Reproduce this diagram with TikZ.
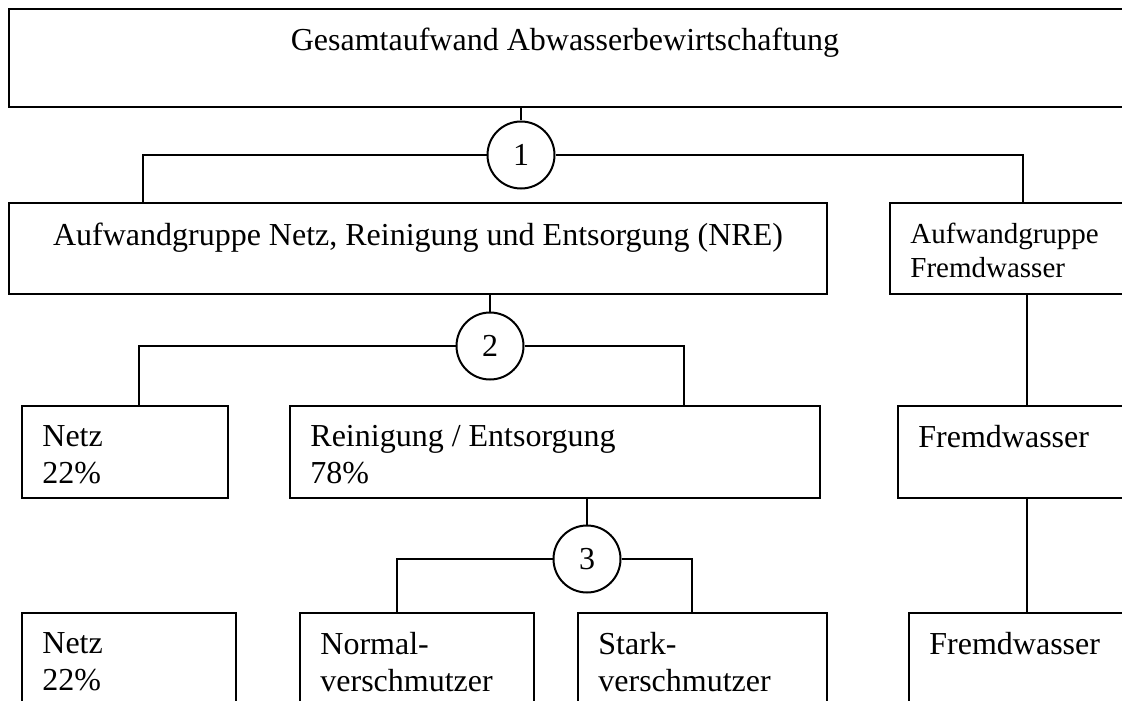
\documentclass[tikz,border=0pt]{standalone}
\usepackage{fontspec}
\setmainfont{Liberation Serif}
\usetikzlibrary{calc}
\begin{document}
\begin{tikzpicture}[x=0.5pt, y=-0.5pt,
            font=\fontsize{16}{18.5}\selectfont,
            box/.style={draw, rectangle, line width=1pt, anchor=north west, inner sep=0pt},
            txt/.style={anchor=north west, inner sep=0pt, align=left, xshift=10.5pt, yshift=-10pt},
            mid/.style={anchor=north, inner sep=0pt, yshift=-10pt},
            small/.style={font=\fontsize{14.5}{17}\selectfont},
            num/.style={draw, circle, line width=1pt, minimum size=33.5pt, inner sep=0pt},
            con/.style={line width=.9pt}]
            \useasboundingbox (0,0) rectangle (1122,700);
            \clip (0,0) rectangle (1122,700);

            \draw (8,8) node[box, minimum width=560pt, minimum height=49pt, label={[mid, xshift=-2pt]north:Gesamtaufwand Abwasserbewirtschaftung}] (ges) {};
            \draw (8,202) node[box, minimum width=409pt, minimum height=45.5pt, label={[mid, yshift=-.5pt]north:{Aufwandgruppe Netz, Reinigung und Entsorgung (NRE)}}] (nre) {};
            \draw (889,202) node[box, minimum width=140pt, minimum height=45.5pt, label={[txt, small, yshift=-.5pt]north west:Aufwandgruppe\\Fremdwasser}] (fwg) {};
            \draw (21,405) node[box, minimum width=103pt, minimum height=46pt, label={[txt]north west:Netz\\22\%}] (netzA) {};
            \draw (289,405) node[box, minimum width=265pt, minimum height=46pt, label={[txt]north west:Reinigung / Entsorgung\\78\%}] (rein) {};
            \draw (897,405) node[box, minimum width=140pt, minimum height=46pt, label={[txt]north west:Fremdwasser}] (fwA) {};
            \draw (21,612) node[box, minimum width=107pt, minimum height=60pt, label={[txt]north west:Netz\\22\%}] (netzB) {};
            \draw (299,612) node[box, minimum width=117pt, minimum height=60pt, label={[txt]north west:Normal-\\verschmutzer}] (norm) {};
            \draw (577,612) node[box, minimum width=124.5pt, minimum height=60pt, label={[txt]north west:Stark-\\verschmutzer}] (stark) {};
            \draw (908,612) node[box, minimum width=140pt, minimum height=60pt, label={[txt]north west:Fremdwasser}] (fwB) {};

            \draw (521,155) node[num] (c1) {1};
            \draw (490,346) node[num] (c2) {2};
            \draw (587,559) node[num] (c3) {3};

            \draw[con] (c1 |- ges.south) -- (c1);
            \draw[con] (c1) -| ($(nre.north west)+(135,0)$);
            \draw[con] (c1) -| ($(fwg.north west)+(134,0)$);
            \draw[con] (c2 |- nre.south) -- (c2);
            \draw[con] (c2) -| ($(netzA.north west)+(118,0)$);
            \draw[con] (c2) -| ($(rein.north west)+(395,0)$);
            \draw[con] (c3 |- rein.south) -- (c3);
            \draw[con] (c3) -| ($(norm.north west)+(98,0)$);
            \draw[con] (c3) -| ($(stark.north west)+(115,0)$);
            \draw[con] ($(fwg.south west)+(138,0)$) -- ($(fwA.north west)+(130,0)$);
            \draw[con] ($(fwA.south west)+(130,0)$) -- ($(fwB.north west)+(119,0)$);
        \end{tikzpicture}
\end{document}
